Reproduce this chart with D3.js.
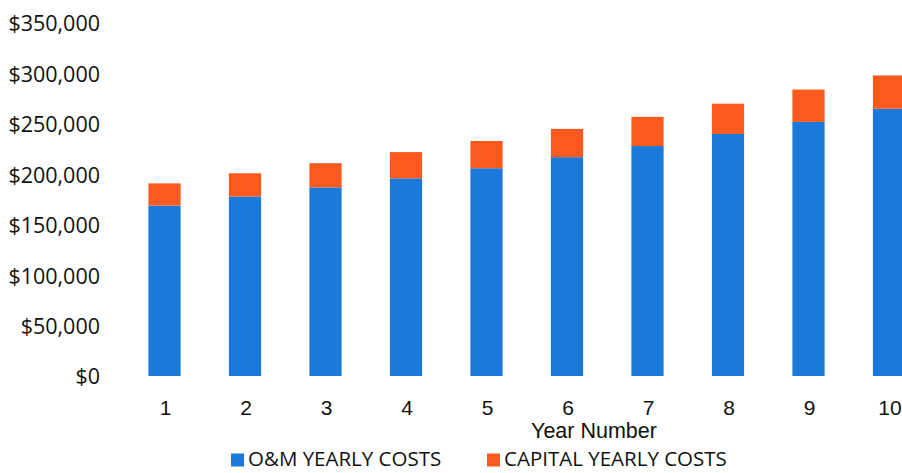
<!DOCTYPE html>
<html>
<head>
<meta charset="utf-8">
<script src="https://cdn.jsdelivr.net/npm/d3@7"></script>
<style>
  html, body { margin: 0; padding: 0; background: #fff; }
  svg { display: block; }
</style>
</head>
<body>
<svg id="chart" width="902" height="473"></svg>
<script>
// Yearly cost data
const years = ["1", "2", "3", "4", "5", "6", "7", "8", "9", "10"];
const omCosts = [169000, 178000, 187000, 196000, 206000, 217000, 228000, 240000, 252000, 265000];
const capitalCosts = [22000, 23000, 24000, 26000, 27000, 28000, 29000, 30000, 32000, 33000];
const yTicks = [0, 50000, 100000, 150000, 200000, 250000, 300000, 350000];
const seriesNames = ["O&M YEARLY COSTS", "CAPITAL YEARLY COSTS"];
const seriesColors = ["#1b79d9", "#fb5a1e"];

const svg = d3.select("#chart");

const y = d3.scaleLinear().domain([0, 350000]).range([376, 23]);
const x = d3.scaleBand().domain(years).range([124.25, 929.25])
  .paddingInner(0.6).paddingOuter(0.3);

// stacked layout
const rows = years.map((yr, i) => ({ year: yr, om: omCosts[i], capital: capitalCosts[i] }));
const stack = d3.stack().keys(["om", "capital"]);
const layers = stack(rows);

const plot = svg.append("g");
plot.selectAll("g.layer")
  .data(layers)
  .join("g")
  .attr("class", "layer")
  .attr("fill", (d, i) => seriesColors[i])
  .selectAll("rect")
  .data(d => d)
  .join("rect")
  .attr("x", d => x(d.data.year))
  .attr("width", x.bandwidth())
  .attr("y", d => y(d[1]))
  .attr("height", d => y(d[0]) - y(d[1]));

// y axis (labels only)
const fmt = d3.format("$,.0f");
const yAxis = d3.axisLeft(y).tickValues(yTicks).tickFormat(fmt).tickSize(0).tickPadding(0);
const gy = svg.append("g").attr("transform", "translate(100,1)").call(yAxis);
gy.select(".domain").remove();
gy.selectAll("text")
  .attr("fill", "#111")
  .style("font-family", "'Open Sans', sans-serif")
  .style("font-size", "21.5px");

// x axis (labels only)
const xAxis = d3.axisBottom(x).tickSize(0).tickPadding(0);
const gx = svg.append("g").attr("transform", "translate(1,400)").call(xAxis);
gx.select(".domain").remove();
gx.selectAll("text")
  .attr("fill", "#111")
  .style("font-family", "'Liberation Sans', Arial, sans-serif")
  .style("font-size", "21px");

// axis title
svg.append("text")
  .attr("x", 594).attr("y", 438)
  .attr("text-anchor", "middle")
  .attr("fill", "#111")
  .style("font-family", "'Liberation Sans', Arial, sans-serif")
  .style("font-size", "21.5px")
  .text("Year Number");

// legend
const legendItems = [
  { name: seriesNames[0], color: seriesColors[0], x: 231 },
  { name: seriesNames[1], color: seriesColors[1], x: 487 }
];
const lg = svg.append("g");
legendItems.forEach(it => {
  lg.append("rect")
    .attr("x", it.x).attr("y", 453.5)
    .attr("width", 13).attr("height", 13)
    .attr("fill", it.color);
  lg.append("text")
    .attr("x", it.x + 17).attr("y", 466)
    .attr("fill", "#111")
    .style("font-family", "'Open Sans', sans-serif")
    .style("font-size", "20.5px")
    .text(it.name);
});
</script>
</body>
</html>
